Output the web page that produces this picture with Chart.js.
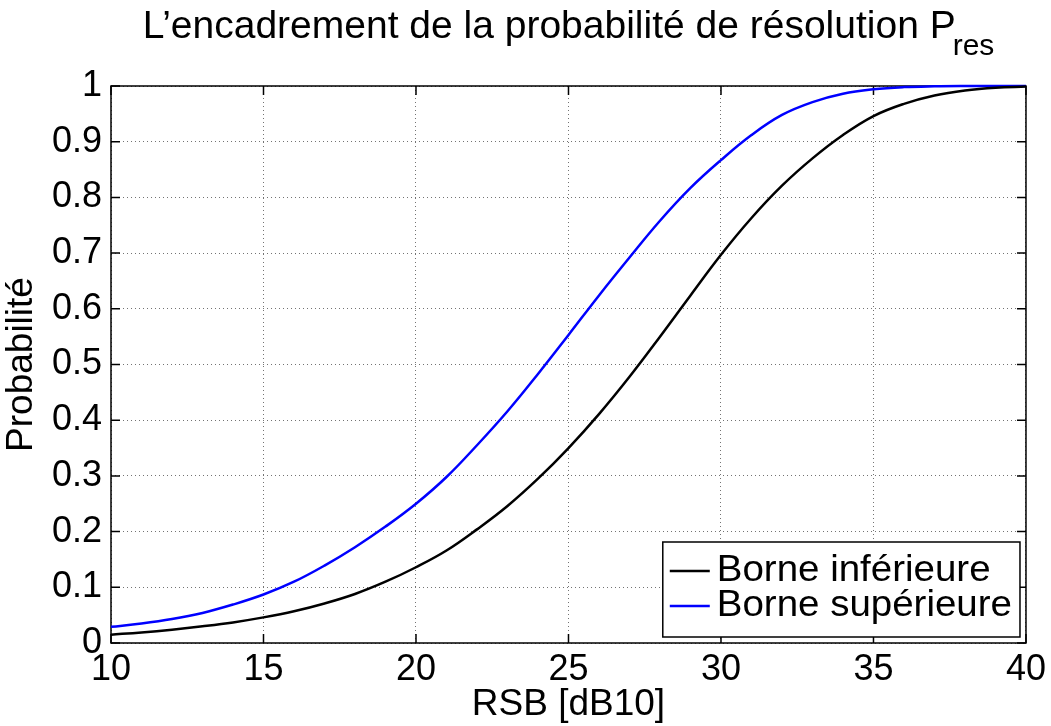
<!DOCTYPE html>
<html>
<head>
<meta charset="utf-8">
<script src="https://cdn.jsdelivr.net/npm/chart.js@4.4.1/dist/chart.umd.min.js"></script>
<style>
  body { margin: 0; background: #fff; }
  #wrap { width: 1051px; height: 726px; }
</style>
</head>
<body>
<div id="wrap"><canvas id="c" width="1051" height="726"></canvas></div>
<script>
const FONT = "'Liberation Sans', Arial, Helvetica, sans-serif";

// --- DONNÉES ---
const rsb = [10, 11, 12, 13, 14, 15, 16, 17, 18, 19, 20, 21, 22, 23, 24, 25,
             26, 27, 28, 29, 30, 31, 32, 33, 34, 35, 36, 37, 38, 39, 40];
const borneInf = [0.015, 0.019, 0.024, 0.030, 0.037, 0.046, 0.057, 0.071, 0.088, 0.110,
                  0.136, 0.166, 0.204, 0.246, 0.295, 0.350, 0.411, 0.478, 0.550, 0.624,
                  0.697, 0.763, 0.821, 0.870, 0.912, 0.946, 0.968, 0.983, 0.992, 0.997, 0.999];
const borneSup = [0.029, 0.035, 0.043, 0.054, 0.069, 0.087, 0.110, 0.139, 0.172, 0.209,
                  0.250, 0.298, 0.355, 0.416, 0.483, 0.553, 0.624, 0.692, 0.758, 0.817,
                  0.867, 0.912, 0.948, 0.971, 0.986, 0.994, 0.998, 0.9995, 1, 1, 1];
const xTicks = [10, 15, 20, 25, 30, 35, 40];
const yTicks = [0, 0.1, 0.2, 0.3, 0.4, 0.5, 0.6, 0.7, 0.8, 0.9, 1];
const labels = ['Borne inférieure', 'Borne supérieure'];
const couleurs = ['#000000', '#0000ff'];
const titreTexte = 'L\u2019encadrement de la probabilité de résolution P';
const titreIndice = 'res';

// --- CADRE + GRADUATIONS INTÉRIEURES (style MATLAB) ---
const cadre = {
  id: 'cadre',
  beforeDatasetsDraw(chart) {
    const { ctx, chartArea: a, scales: { x, y } } = chart;
    ctx.save();
    ctx.strokeStyle = '#000';
    ctx.lineWidth = 1.5;
    ctx.beginPath();
    xTicks.forEach(v => {
      const px = x.getPixelForValue(v);
      ctx.moveTo(px, a.bottom); ctx.lineTo(px, a.bottom - 9);
      ctx.moveTo(px, a.top); ctx.lineTo(px, a.top + 9);
    });
    yTicks.forEach(v => {
      const py = y.getPixelForValue(v);
      ctx.moveTo(a.left, py); ctx.lineTo(a.left + 9, py);
      ctx.moveTo(a.right, py); ctx.lineTo(a.right - 9, py);
    });
    ctx.stroke();
    ctx.strokeRect(a.left, a.top, a.right - a.left, a.bottom - a.top);
    ctx.restore();
  }
};

// --- TITRE AVEC INDICE ---
const titre = {
  id: 'titre',
  afterDraw(chart) {
    const { ctx, chartArea: a } = chart;
    ctx.save();
    ctx.fillStyle = '#000';
    ctx.textBaseline = 'alphabetic';
    ctx.textAlign = 'left';
    ctx.font = `39px ${FONT}`;
    const wMain = ctx.measureText(titreTexte).width;
    ctx.font = `30px ${FONT}`;
    const wSub = ctx.measureText(titreIndice).width;
    const x0 = (a.left + a.right) / 2 - (wMain + wSub - 3) / 2;
    ctx.font = `39px ${FONT}`;
    ctx.fillText(titreTexte, x0, 38);
    ctx.font = `30px ${FONT}`;
    ctx.fillText(titreIndice, x0 + wMain - 3, 55);
    ctx.restore();
  }
};

// --- LÉGENDE DANS LE COIN BAS DROIT ---
const legende = {
  id: 'legende',
  afterDraw(chart) {
    const { ctx, chartArea: a } = chart;
    const ds = chart.data.datasets;
    ctx.save();
    ctx.font = `37px ${FONT}`;
    const sx = 1.04; // police un peu plus large, comme dans l'original
    const textW = Math.max(...ds.map(d => ctx.measureText(d.label).width)) * sx;
    const w = 7 + 40 + 7 + textW + 8;
    const h = 95;
    const right = a.right - 6, bottom = a.bottom - 6;
    const left = right - w, top = bottom - h;
    ctx.fillStyle = '#fff';
    ctx.fillRect(left, top, w, h);
    ctx.strokeStyle = '#000';
    ctx.lineWidth = 1.5;
    ctx.strokeRect(left, top, w, h);
    ctx.textBaseline = 'middle';
    ctx.textAlign = 'left';
    ds.forEach((d, i) => {
      const cy = top + 29 + i * 35;
      ctx.strokeStyle = d.borderColor;
      ctx.lineWidth = 2.5;
      ctx.beginPath();
      ctx.moveTo(left + 7, cy);
      ctx.lineTo(left + 47, cy);
      ctx.stroke();
      ctx.fillStyle = '#000';
      ctx.save();
      ctx.translate(left + 54, cy);
      ctx.scale(sx, 1);
      ctx.fillText(d.label, 0, 0);
      ctx.restore();
    });
    ctx.restore();
  }
};

const grille = {
  color: 'rgba(0,0,0,0.55)',
  lineWidth: 1,
  drawTicks: false,
  tickLength: 0
};

new Chart(document.getElementById('c'), {
  type: 'line',
  data: {
    datasets: [borneInf, borneSup].map((serie, i) => ({
      label: labels[i],
      data: rsb.map((v, k) => ({ x: v, y: serie[k] })),
      borderColor: couleurs[i],
      backgroundColor: couleurs[i],
      borderWidth: 2.5,
      pointRadius: 0,
      tension: 0.4,
      clip: 3
    }))
  },
  options: {
    responsive: false,
    animation: false,
    devicePixelRatio: 1,
    layout: { padding: { top: 86, right: 25, left: 0, bottom: 0 } },
    plugins: {
      legend: { display: false },
      title: { display: false },
      tooltip: { enabled: false }
    },
    scales: {
      x: {
        type: 'linear',
        min: 10,
        max: 40,
        afterBuildTicks: s => { s.ticks = xTicks.map(v => ({ value: v })); },
        afterFit: s => { s.height = 83; },
        grid: grille,
        border: { display: false, dash: [1, 3] },
        ticks: {
          color: '#000',
          padding: 5,
          maxRotation: 0,
          font: { family: FONT, size: 36 },
          callback: v => String(v)
        },
        title: {
          display: true,
          text: 'RSB [dB10]',
          color: '#000',
          font: { family: FONT, size: 37, lineHeight: 1 },
          padding: { top: 0, bottom: 3 }
        }
      },
      y: {
        min: 0,
        max: 1,
        afterBuildTicks: s => { s.ticks = yTicks.map(v => ({ value: v })); },
        afterFit: s => { s.width = 111; },
        grid: grille,
        border: { display: false, dash: [1, 3] },
        ticks: {
          color: '#000',
          padding: 9,
          font: { family: FONT, size: 36 },
          callback: v => String(v)
        },
        title: {
          display: true,
          text: 'Probabilité',
          color: '#000',
          font: { family: FONT, size: 37, lineHeight: 1 },
          padding: { top: 3, bottom: 0 }
        }
      }
    }
  },
  plugins: [cadre, titre, legende]
});
</script>
</body>
</html>
